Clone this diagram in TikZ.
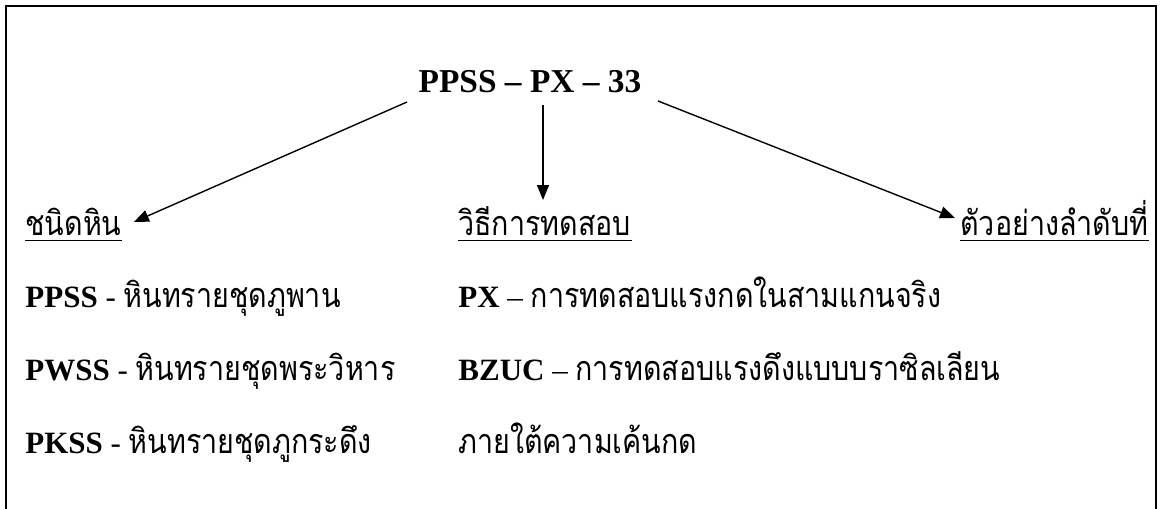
\documentclass[tikz,border=0pt]{standalone}
\usepackage{fontspec}
\setmainfont{Liberation Serif}
\newfontfamily\thai[Script=Thai,Scale=1.1,FakeStretch=0.84]{Loma}
\usetikzlibrary{arrows.meta,calc}
\begin{document}
\begin{tikzpicture}[x=0.5pt,y=-0.5pt,
  lbl/.style={inner sep=0pt,anchor=base west,font=\fontsize{15.5pt}{18pt}\selectfont},
  arr/.style={line width=0.7pt,-{Triangle[length=7.5pt,width=6pt]}},
  uline/.style={line width=0.5pt}]
\useasboundingbox (0,0) rectangle (1163,509);
\draw[line width=1pt] (6,509) -- (6,6) -- (1156,6) -- (1156,509);
\node[inner sep=0pt,anchor=base,font=\fontsize{16.7pt}{20pt}\selectfont\bfseries] (title) at (530,92) {PPSS -- PX -- 33};
\node[lbl] (lab1) at (25,235) {\thai ชนิดหิน};
\node[lbl] (lab2) at (458,235) {\thai วิธีการทดสอบ};
\node[lbl] (lab3) at (960,235) {\thai ตัวอย่างลำดับที่};
\foreach \n in {lab1,lab2,lab3}{\draw[uline] ($(\n.base west)+(0,5)$) -- ($(\n.base east)+(0,5)$);}
\node[lbl] (r1) at (25,307) {\textbf{PPSS} - {\thai หินทรายชุดภูพาน}};
\node[lbl] (r2) at (25,380) {\textbf{PWSS} - {\thai หินทรายชุดพระวิหาร}};
\node[lbl] (r3) at (25,453) {\textbf{PKSS} - {\thai หินทรายชุดภูกระดึง}};
\node[lbl] (m1) at (458,307) {\textbf{PX} -- {\thai การทดสอบแรงกดในสามแกนจริง}};
\node[lbl] (m2) at (458,380) {\textbf{BZUC} -- {\thai การทดสอบแรงดึงแบบบราซิลเลียน}};
\node[lbl] (m3) at (458,453) {\thai ภายใต้ความเค้นกด};
\draw[arr] ($(title.base)+(-123,10)$) -- ($(lab1.base east)+(12,-13)$);
\draw[arr] ($(title.base)+(13,13)$) -- ($(lab2.base west)+(85,-35)$);
\draw[arr] ($(title.base)+(128,9)$) -- ($(lab3.base west)+(-5,-17)$);
\end{tikzpicture}
\end{document}
